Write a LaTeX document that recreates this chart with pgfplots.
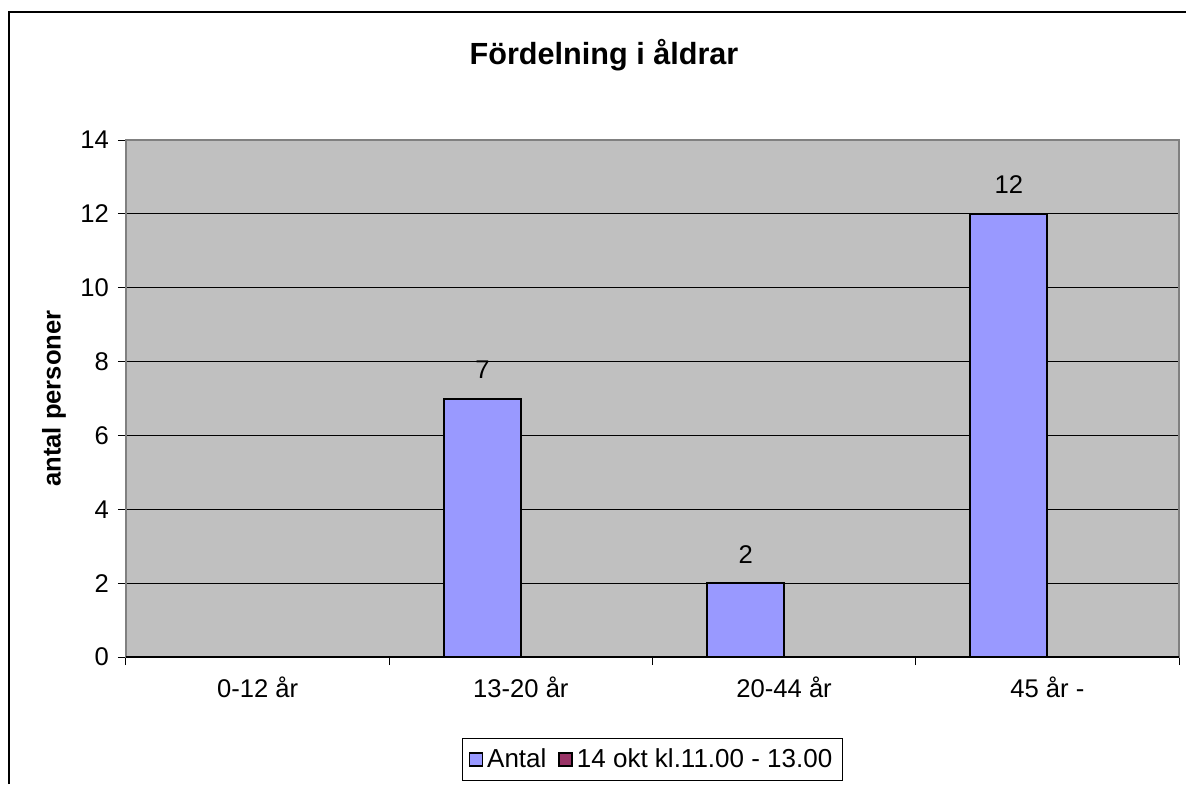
\documentclass[border=0pt]{standalone}
\usepackage{fontspec}
\setmainfont{Liberation Sans}
\usepackage{pgfplots}
\pgfplotsset{compat=1.18}
\definecolor{plotgray}{HTML}{C0C0C0}
\definecolor{bordergray}{HTML}{808080}
\definecolor{barblue}{HTML}{9999FF}
\definecolor{barplum}{HTML}{993366}
\begin{document}
\begin{tikzpicture}
\useasboundingbox[fill=white] (0,0) rectangle (593pt,392pt);
\draw[line width=1pt, black] (4.5pt,0) -- (4.5pt,386pt) -- (593pt,386pt);
\node[anchor=base, font=\bfseries\fontsize{15.3}{18}\selectfont] at (302pt,359.5pt) {Fördelning i åldrar};
\begin{axis}[
  at={(63pt,63.5pt)}, anchor=south west,
  width=526.5pt, height=258.5pt, scale only axis,
  xmin=-0.5, xmax=3.5, ymin=0, ymax=14,
  ytick={0,2,...,14},
  xtick={-0.5,0.5,1.5,2.5,3.5}, xticklabels={},
  extra x ticks={0,1,2,3},
  extra x tick labels={0-12 år,13-20 år,20-44 år,45 år -},
  extra x tick style={major tick length=0pt, xticklabel style={yshift=-6.5pt}},
  tick align=outside, major tick length=4pt,
  xtick pos=bottom, ytick pos=left,
  tick style={black, line width=0.5pt},
  ymajorgrids, grid style={black, line width=0.5pt},
  axis background/.style={fill=plotgray},
  axis line style={bordergray, line width=0.75pt},
  /pgf/number format/assume math mode=true,
  ticklabel style={font=\fontsize{12.8}{15}\selectfont},
  yticklabel style={xshift=-1pt},
  ylabel={antal personer},
  ylabel style={at={(axis description cs:0,0.5)}, anchor=center, yshift=36pt, font=\bfseries\fontsize{12.8}{15}\selectfont},
  legend style={at={(axis description cs:0.5,-0.199)}, anchor=center,
    draw=black, line width=0.5pt, fill=white,
    font=\fontsize{13}{15}\selectfont, legend columns=2,
    /tikz/every even column/.append style={column sep=4pt},
    inner xsep=3pt, inner ysep=3pt},
  legend image code/.code={\draw[#1, draw=black, line width=0.75pt] (0pt,-3pt) rectangle (6.5pt,3.5pt);},
  nodes near coords,
  every node near coord/.append style={font=\fontsize{12.8}{15}\selectfont, anchor=base, yshift=10pt},
]
\addplot[ybar, bar width=0.2925, bar shift=0, fill=barblue, draw=black, line width=1pt]
  coordinates {(0.85375,7) (1.85375,2) (2.85375,12)};
\addlegendentry{Antal}
\addlegendimage{fill=barplum}
\addlegendentry{14 okt kl.11.00 - 13.00}
\draw[black, line width=1pt] (rel axis cs:0,0) -- (rel axis cs:1,0);
\end{axis}
\end{tikzpicture}
\end{document}
